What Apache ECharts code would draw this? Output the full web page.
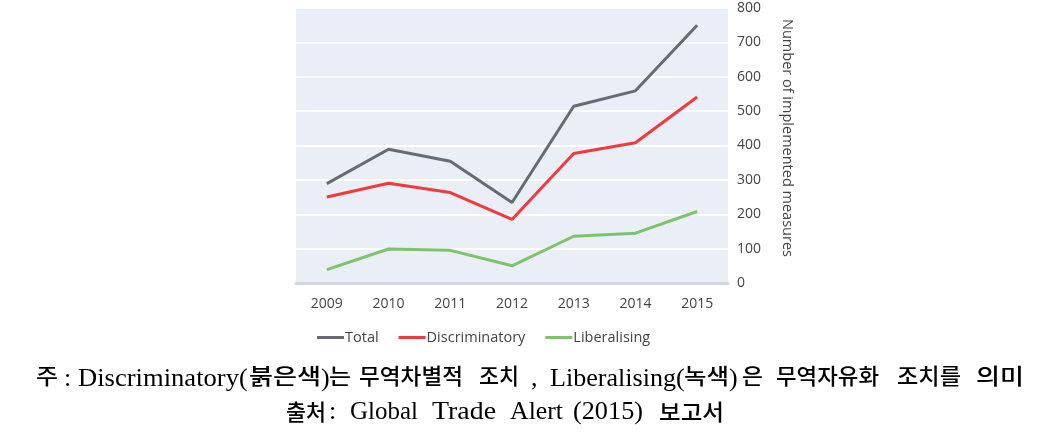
<!DOCTYPE html>
<html>
<head>
<meta charset="utf-8">
<script src="https://cdn.jsdelivr.net/npm/echarts@6/dist/echarts.min.js"></script>
<style>
html,body{margin:0;padding:0;background:#fff;}
#chart{width:1062px;height:436px;}
</style>
</head>
<body>
<div id="chart"></div>
<script>
const years = ['2009','2010','2011','2012','2013','2014','2015'];
const total = [289, 389, 354, 234, 514, 559, 750];
const discriminatory = [250, 290, 263, 185, 377, 408, 541];
const liberalising = [39, 99, 95, 50, 136, 145, 208];
const seriesNames = ['Total', 'Discriminatory', 'Liberalising'];
const seriesColors = ['#686b71', '#f03a3c', '#7cc46a'];
const yAxisName = 'Number of implemented measures';
// footnote fragments: [text, script kind]
const note1Text = [['주','k'],[':','l'],['Discriminatory','l'],['(','l'],['붉은색','k'],[')','l'],['는','k'],['무역차별적','k'],['조치','k'],[',','l'],['Liberalising','l'],['(','l'],['녹색','k'],[')','l'],['은','k'],['무역자유화','k'],['조치를','k'],['의미','k']];
const note2Text = [['출처','k'],[':','l'],['Global','l'],['Trade','l'],['Alert','l'],['(2015)','l'],['보고서','k']];

// layout: [left, right] extent of each footnote fragment (right null = natural width)
const note1Span = [[37,57],[64,null],[78,238],[239,null],[250,320],[321,null],[330,350],[360,462],[480,518],[531,null],[550,675],[676,null],[685,728],[729,null],[743,762],[777,878],[898,960],[977,1023]];
const note2Span = [[287,325],[329,null],[350,417],[432,495],[510,562],[573,642],[660,723]];

const fontK = {fontFamily: '"Noto Sans CJK KR"', fontSize: 22, fontWeight: 500};
const fontL = {fontFamily: '"Liberation Serif"', fontSize: 26, fontWeight: 'normal'};

const mctx = document.createElement('canvas').getContext('2d');
function measure(text, f) {
  mctx.font = (f.fontWeight === 500 ? '500 ' : '') + f.fontSize + 'px ' + f.fontFamily;
  return mctx.measureText(text).width;
}

function frags(textArr, spans, yK, yL) {
  return textArr.map((t, i) => {
    const f = t[1] === 'k' ? fontK : fontL;
    const sp = spans[i];
    let sx = 1, x0 = sp[0];
    if (sp[1] !== null) {
      const pad = t[1] === 'k' ? 2 : 1;
      const w = measure(t[0], f);
      sx = (sp[1] - sp[0] + pad) / w;
      x0 = sp[0] - (t[1] === 'k' ? 1 : 0);
    }
    return {
      type: 'text', silent: true, x: x0, y: t[1] === 'k' ? yK : yL, scaleX: sx,
      style: Object.assign({
        text: t[0], x: 0, y: 0,
        fill: '#000', align: 'left', verticalAlign: 'middle'
      }, f)
    };
  });
}

const chart = echarts.init(document.getElementById('chart'));
const dataArr = [total, discriminatory, liberalising];
chart.setOption({
  animation: false,
  textStyle: {fontFamily: '"Open Sans"'},
  grid: {left: 296, right: 334, top: 8, bottom: 153, show: true, backgroundColor: '#e9eef7', borderWidth: 0},
  legend: {
    left: 312, top: 325, itemWidth: 27, itemHeight: 3, itemGap: 20, icon: 'rect',
    textStyle: {fontSize: 14.5, color: '#444', padding: [0,0,0,-4]},
    data: seriesNames
  },
  xAxis: {
    type: 'category', data: years, boundaryGap: true,
    axisLine: {show: true, lineStyle: {color: '#d3d8df', width: 3}},
    axisTick: {show: false},
    axisLabel: {color: '#444', fontSize: 14, margin: 14}
  },
  yAxis: {
    type: 'value', position: 'right', min: 0, max: 800, interval: 100,
    axisLine: {show: false}, axisTick: {show: false},
    axisLabel: {color: '#444', fontSize: 14, margin: 9},
    splitLine: {lineStyle: {color: '#ffffff', width: 2}}
  },
  series: seriesNames.map((n, i) => ({
    name: n, type: 'line', data: dataArr[i], symbol: 'none',
    lineStyle: {width: 3, color: seriesColors[i]}, itemStyle: {color: seriesColors[i]}
  })),
  graphic: [
    {type: 'text', silent: true, x: 787, y: 138, rotation: -Math.PI / 2,
     style: {text: yAxisName, fontFamily: '"Open Sans"', fontSize: 14.5, fill: '#444', align: 'center', verticalAlign: 'middle'}}
  ].concat(frags(note1Text, note1Span, 376, 379), frags(note2Text, note2Span, 412, 412))
});
</script>
</body>
</html>
